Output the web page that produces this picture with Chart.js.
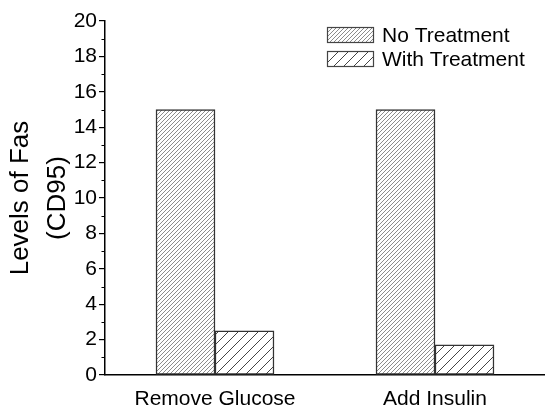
<!DOCTYPE html>
<html>
<head>
<meta charset="utf-8">
<script src="https://cdn.jsdelivr.net/npm/chart.js@4"></script>
<style>
  html, body { margin: 0; padding: 0; background: #fff; overflow: hidden; }
  #wrap { width: 545px; height: 411px; }
</style>
</head>
<body>
<div id="wrap"><canvas id="fasChart" width="545" height="411"></canvas></div>
<script>
const categories = ["Remove Glucose", "Add Insulin"];
const noTreatment = [15, 15];
const withTreatment = [2.5, 1.7];
const seriesNames = ["No Treatment", "With Treatment"];

const FONT = "'Liberation Sans', Arial, sans-serif";

// diagonal hatch tiles
function hatch(size, color) {
  const c = document.createElement("canvas");
  c.width = size; c.height = size;
  const g = c.getContext("2d");
  g.fillStyle = "#fff";
  g.fillRect(0, 0, size, size);
  g.strokeStyle = color;
  g.lineWidth = 1;
  g.beginPath();
  g.moveTo(-1, size + 1); g.lineTo(size + 1, -1);
  g.moveTo(-1, 1); g.lineTo(1, -1);
  g.moveTo(size - 1, size + 1); g.lineTo(size + 1, size - 1);
  g.stroke();
  return document.getElementById("fasChart").getContext("2d").createPattern(c, "repeat");
}

const densePat = hatch(4, "#8c8c8c");
const sparsePat = hatch(10, "#444");
const patterns = [densePat, sparsePat];

const ctx = document.getElementById("fasChart").getContext("2d");

const minorTicks = {
  id: "minorTicks",
  afterDraw(chart) {
    const y = chart.scales.y;
    const c = chart.ctx;
    c.save();
    c.strokeStyle = "#000";
    c.lineWidth = 1.2;
    c.beginPath();
    for (let v = 1; v < 20; v += 2) {
      const py = Math.round(y.getPixelForValue(v)) + 0.5;
      c.moveTo(y.right - 3.5, py);
      c.lineTo(y.right, py);
    }
    c.stroke();
    c.restore();
  }
};

const boxLegend = {
  id: "boxLegend",
  afterDraw(chart) {
    const c = chart.ctx;
    c.save();
    chart.data.datasets.forEach((ds, i) => {
      const top = 27 + i * 24;
      c.fillStyle = ds.backgroundColor;
      c.fillRect(327, top, 47, 16);
      c.strokeStyle = "#444";
      c.lineWidth = 1.2;
      c.strokeRect(327.5, top + 0.5, 46, 15);
      c.fillStyle = "#000";
      c.font = "21px " + FONT;
      c.textBaseline = "middle";
      c.textAlign = "left";
      c.fillText(ds.label, 382, top + 9);
    });
    c.restore();
  }
};

new Chart(ctx, {
  type: "bar",
  data: {
    labels: categories,
    datasets: [{
      label: seriesNames[0],
      data: noTreatment,
      backgroundColor: patterns[0],
      borderColor: "#333",
      borderWidth: 1.5,
      borderSkipped: false
    }, {
      label: seriesNames[1],
      data: withTreatment,
      backgroundColor: patterns[1],
      borderColor: "#333",
      borderWidth: 1.5,
      borderSkipped: false
    }]
  },
  options: {
    responsive: false,
    animation: false,
    layout: { padding: { top: 21, right: 0, left: 0, bottom: 0 } },
    barThickness: 59,
    scales: {
      x: {
        grid: { display: false },
        border: { display: true, color: "#000", width: 1.5 },
        ticks: { color: "#000", font: { family: FONT, size: 21 }, padding: 4, maxRotation: 0 },
        afterFit(scale) { scale.height = 36; }
      },
      y: {
        min: 0,
        max: 20,
        ticks: { stepSize: 2, color: "#000", font: { family: FONT, size: 21 }, padding: 2 },
        grid: { drawOnChartArea: false, tickLength: 6, color: "#000", lineWidth: 1.2 },
        border: { display: true, color: "#000", width: 1.5 },
        title: {
          display: true,
          text: ["Levels of Fas", "(CD95)"],
          color: "#000",
          font: { family: FONT, size: 26, lineHeight: 1.4 },
          padding: { top: 3, bottom: 0 }
        },
        afterFit(scale) { scale.width = 105; }
      }
    },
    plugins: {
      legend: { display: false },
      tooltip: { enabled: false }
    }
  },
  plugins: [minorTicks, boxLegend]
});
</script>
</body>
</html>
